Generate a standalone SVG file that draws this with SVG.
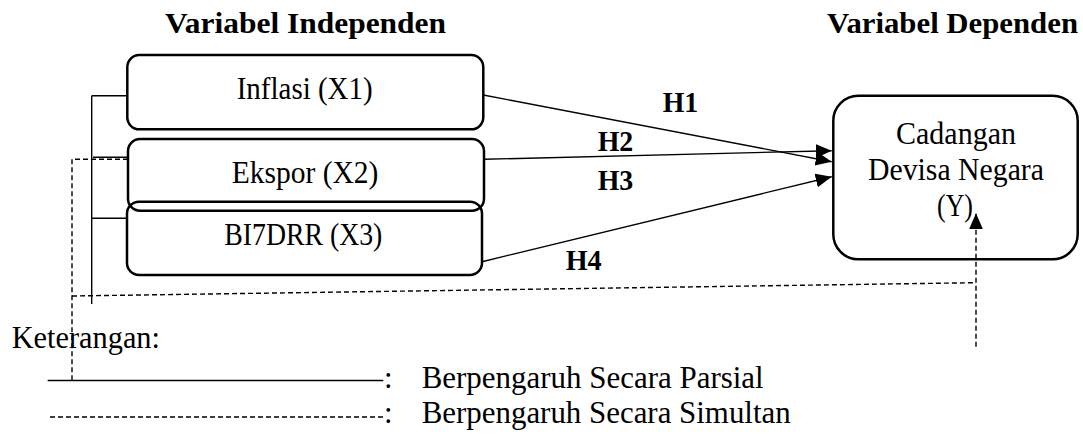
<svg xmlns="http://www.w3.org/2000/svg" width="1083" height="434" viewBox="0 0 1083 434">
<style>
  .t { font-family: "Liberation Serif", "Times New Roman", serif; font-size: 31px; fill: #000; }
  .b { font-weight: bold; font-size: 30px; }
  .box { fill: none; stroke: #000; stroke-width: 2.5; }
  .ln { fill: none; stroke: #000; stroke-width: 1.4; }
  .dash { fill: none; stroke: #000; stroke-width: 1.4; stroke-dasharray: 5 3; }
</style>
<defs>
  <marker id="arr" markerUnits="userSpaceOnUse" markerWidth="18" markerHeight="16" refX="16" refY="7" orient="auto">
    <path d="M0,0 L16,7 L0,14 Z" fill="#000"/>
  </marker>
</defs>
<rect width="1083" height="434" fill="#fff"/>

<g id="titles">
  <text class="t b" x="165" y="33" textLength="281" lengthAdjust="spacingAndGlyphs">Variabel Independen</text>
  <text class="t b" x="827" y="33" textLength="251" lengthAdjust="spacingAndGlyphs">Variabel Dependen</text>
</g>

<g id="connectors">
  <line class="ln" x1="483.3" y1="95" x2="831.7" y2="161.7" marker-end="url(#arr)"/>
  <line class="ln" x1="484" y1="159.3" x2="831.7" y2="150.7" marker-end="url(#arr)"/>
  <line class="ln" x1="482" y1="261.7" x2="831.7" y2="176.7" marker-end="url(#arr)"/>
  <path class="ln" d="M91.7,95.7 L91.7,304 M91.7,95.7 L127.3,95.7 M93,157.3 L128,157.3 M91.7,218.3 L127,218.3"/>
  <path class="dash" d="M128,159.3 L72,159.3 L72,380"/>
  <line class="dash" x1="72" y1="296" x2="976" y2="282.7"/>
  <line class="dash" x1="976" y1="346.7" x2="976" y2="213.3" marker-end="url(#arr)"/>
  <text class="t b" x="662.7" y="112" textLength="35.6" lengthAdjust="spacingAndGlyphs">H1</text>
  <text class="t b" x="597.7" y="151" textLength="35.6" lengthAdjust="spacingAndGlyphs">H2</text>
  <text class="t b" x="597.7" y="190" textLength="35.6" lengthAdjust="spacingAndGlyphs">H3</text>
  <text class="t b" x="565.7" y="270" textLength="36" lengthAdjust="spacingAndGlyphs">H4</text>
</g>

<g id="node-x1">
  <rect class="box" x="127.3" y="55" width="356" height="74.3" rx="12"/>
  <text class="t" x="236.7" y="99.3" textLength="136" lengthAdjust="spacingAndGlyphs">Inflasi (X1)</text>
</g>
<g id="node-x2">
  <rect class="box" x="128" y="139" width="356" height="71.7" rx="12"/>
  <text class="t" x="231.7" y="183.3" textLength="146.7" lengthAdjust="spacingAndGlyphs">Ekspor (X2)</text>
</g>
<g id="node-x3">
  <rect class="box" x="127" y="201.7" width="355" height="73.3" rx="12"/>
  <text class="t" x="224.3" y="245" textLength="158" lengthAdjust="spacingAndGlyphs">BI7DRR (X3)</text>
</g>
<g id="node-y">
  <rect class="box" x="833.3" y="95.7" width="244.4" height="163.6" rx="25"/>
  <text class="t" x="896" y="144" textLength="120" lengthAdjust="spacingAndGlyphs">Cadangan</text>
  <text class="t" x="868" y="180" textLength="176" lengthAdjust="spacingAndGlyphs">Devisa Negara</text>
  <text class="t" x="937" y="216" textLength="36" lengthAdjust="spacingAndGlyphs">(Y)</text>
</g>

<g id="legend">
  <text class="t" x="11.7" y="348" textLength="148.3" lengthAdjust="spacingAndGlyphs">Keterangan:</text>
  <line class="ln" x1="47.7" y1="380.5" x2="383.3" y2="380.5"/>
  <text class="t" x="384" y="388">:</text>
  <text class="t" x="421.7" y="388" textLength="342" lengthAdjust="spacingAndGlyphs">Berpengaruh Secara Parsial</text>
  <line class="dash" x1="50" y1="417" x2="383.3" y2="417"/>
  <text class="t" x="384" y="423">:</text>
  <text class="t" x="421.7" y="423" textLength="369" lengthAdjust="spacingAndGlyphs">Berpengaruh Secara Simultan</text>
</g>
</svg>
